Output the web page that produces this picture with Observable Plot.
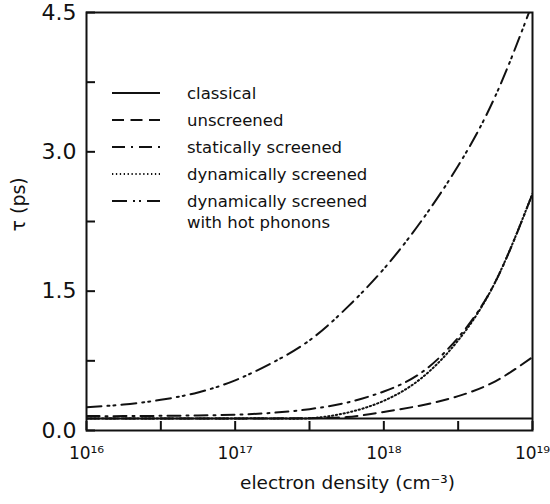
<!DOCTYPE html>
<html><head><meta charset="utf-8">
<script src="https://cdn.jsdelivr.net/npm/d3@7"></script>
<script src="https://cdn.jsdelivr.net/npm/@observablehq/plot@0.6"></script>
<style>
body{margin:0;background:#fff;}
#wrap{position:relative;width:550px;height:504px;font-family:"DejaVu Sans",sans-serif;}
#wrap svg{position:absolute;left:0;top:0;}
</style></head><body><div id="wrap"></div>
<script>
// log10 of electron density (cm^-3)
const logN = [16, 16.25, 16.5, 16.75, 17, 17.25, 17.5, 17.75, 18, 18.25, 18.5, 18.75, 19];
const classical   = [0.13,0.13,0.13,0.13,0.13,0.13,0.13,0.13,0.13,0.13,0.13,0.13,0.13];
const unscreened  = [0.13,0.13,0.13,0.13,0.13,0.13,0.133,0.145,0.20,0.27,0.37,0.53,0.79];
const statically  = [0.155,0.155,0.158,0.162,0.17,0.19,0.23,0.30,0.42,0.62,1.0,1.6,2.55];
const dynamically = [0.13,0.13,0.13,0.13,0.13,0.13,0.132,0.19,0.32,0.56,0.97,1.6,2.55];
const hotPhonons  = [0.25,0.28,0.33,0.41,0.54,0.73,0.97,1.32,1.74,2.25,2.85,3.6,4.6];

const seriesNames = ["classical","unscreened","statically screened","dynamically screened","dynamically screened|with hot phonons"];
const seriesValues = [classical, unscreened, statically, dynamically, hotPhonons];
const seriesDash = [null, "12,6.5", "13,6,2,6", "1.3,2.6", "15,6,2,4,2,6"];

const yMinorTicks = [0, 0.75, 1.5, 2.25, 3.0, 3.75, 4.5];
const yLabelTicks = [0, 1.5, 3.0, 4.5];
const xMinorTicks = [1e16, 10**16.5, 1e17, 10**17.5, 1e18, 10**18.5, 1e19];
const xLabelTicks = [1e16, 1e17, 1e18, 1e19];
const supDigits = {"0":"⁰","1":"¹","2":"²","3":"³","4":"⁴","5":"⁵","6":"⁶","7":"⁷","8":"⁸","9":"⁹"};
const xTickLabel = d => "10" + String(Math.round(Math.log10(d))).split("").map(c => supDigits[c]).join("");

const rows = [];
seriesNames.forEach((name, i) => {
  logN.forEach((l, j) => rows.push({series: name, n: 10 ** l, tau: seriesValues[i][j]}));
});

const lineMarks = seriesNames.map((name, i) =>
  Plot.line(rows.filter(r => r.series === name), {
    x: "n", y: "tau", curve: "natural", stroke: "#111", strokeWidth: 2,
    strokeDasharray: seriesDash[i] || undefined, clip: true
  })
);

const chart = Plot.plot({
  width: 550, height: 504,
  marginLeft: 86, marginRight: 18, marginTop: 12, marginBottom: 74,
  style: {fontFamily: "'DejaVu Sans', sans-serif", background: "#fff", color: "#111"},
  x: {type: "log", domain: [1e16, 1e19]},
  y: {domain: [0, 4.5]},
  marks: [
    ...lineMarks,
    Plot.frame({stroke: "#111", strokeWidth: 2}),
    Plot.axisY({ticks: yMinorTicks, anchor: "left", tickSize: 9, dx: 9, tickFormat: () => "", label: null, strokeWidth: 2}),
    Plot.axisY({ticks: yLabelTicks, anchor: "left", tickSize: 0, tickPadding: 10, tickFormat: d => d.toFixed(1), fontSize: 22, label: null}),
    Plot.axisX({ticks: xMinorTicks, anchor: "bottom", tickSize: 9, dy: -9, tickFormat: () => "", label: null, strokeWidth: 2}),
    Plot.axisX({ticks: xLabelTicks, anchor: "bottom", tickSize: 0, tickPadding: 16, tickFormat: xTickLabel, fontSize: 17, label: null}),
    Plot.text(["electron density (cm⁻³)"], {frameAnchor: "bottom", dx: 38, dy: 58, fontSize: 18.5}),
    Plot.text(["τ (ps)"], {frameAnchor: "left", rotate: -90, dx: -68, dy: 10, fontSize: 19})
  ]
});

const wrap = document.getElementById("wrap");
wrap.appendChild(chart);

// legend overlay
const leg = d3.select(wrap).append("svg")
  .attr("width", 550).attr("height", 504)
  .style("pointer-events", "none")
  .append("g").attr("transform", "translate(112,93)")
  .attr("font-family", "'DejaVu Sans', sans-serif").attr("font-size", 16.5).attr("fill", "#111");
seriesNames.forEach((name, i) => {
  const g = leg.append("g").attr("transform", `translate(0,${i * 27})`);
  g.append("line").attr("x1", 0).attr("x2", 48).attr("y1", 0).attr("y2", 0)
    .attr("stroke", "#111").attr("stroke-width", 2)
    .attr("stroke-dasharray", seriesDash[i]);
  name.split("|").forEach((t, k) => {
    g.append("text").attr("x", 75).attr("y", k * 21).attr("dy", "0.35em").text(t);
  });
});
</script>
</body></html>
